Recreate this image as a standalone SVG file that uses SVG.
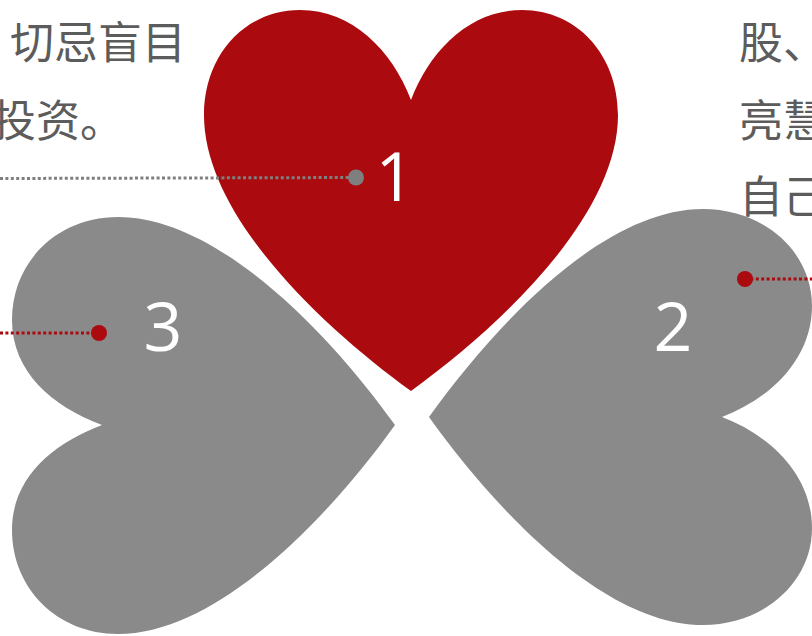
<svg xmlns="http://www.w3.org/2000/svg" width="812" height="636" viewBox="0 0 812 636">
<style>
.cn{font-family:"Noto Sans CJK SC","Noto Sans",sans-serif;font-size:44px;fill:#5c5c5c}
.num{font-family:"Open Sans",sans-serif;font-size:68px;fill:#fff;text-anchor:middle}
.gr{fill:#8a8a8a}
.line{fill:none;stroke-width:3;stroke-dasharray:3 2.4}
</style>
<rect width="812" height="636" fill="#fff"/>
<g id="text-left">
<text class="cn" x="10" y="59">切忌盲目</text>
<text class="cn" x="-8" y="137">投资。</text>
</g>
<g id="text-right">
<text class="cn" x="739" y="59">股、</text>
<text class="cn" x="739" y="137">亮慧</text>
<text class="cn" x="739" y="213">自己</text>
</g>
<g id="node-1">
<path fill="#ab0a0f" d="M411 100C392 50 352 10 300 10C245 10 204 55 204 115C204 215 320 325 411 391C502 325 618 215 618 115C618 55 577 10 522 10C470 10 430 50 411 100Z"/>
<text class="num" x="395" y="201">1</text>
</g>
<g id="node-2">
<path class="gr" d="M722 417C772 398 812 358 812 306C812 251 763 209 703 209C603 209 495 325 429 417C495 509 603 625 703 625C763 625 812 583 812 528C812 476 772 436 722 417Z"/>
<text class="num" x="673" y="351">2</text>
</g>
<g id="node-3">
<path class="gr" d="M102 425C52 406 12 372 12 320C12 262 57 217 118 217C218 217 329 333 395 425C329 517 218 634 118 634C57 634 12 588 12 530C12 478 52 444 102 425Z"/>
<text class="num" x="163" y="351">3</text>
</g>
<g id="connectors">
<path class="line" stroke="#7f7f7f" d="M0 178.500L356 177.500"/>
<circle cx="356" cy="177.500" r="8" fill="#7f7f7f"/>
<path class="line" stroke="#ab0a0f" d="M745 279H812"/>
<circle cx="745" cy="279" r="8" fill="#ab0a0f"/>
<path class="line" stroke="#ab0a0f" d="M0 333H99"/>
<circle cx="99" cy="333" r="8" fill="#ab0a0f"/>
</g>
</svg>
